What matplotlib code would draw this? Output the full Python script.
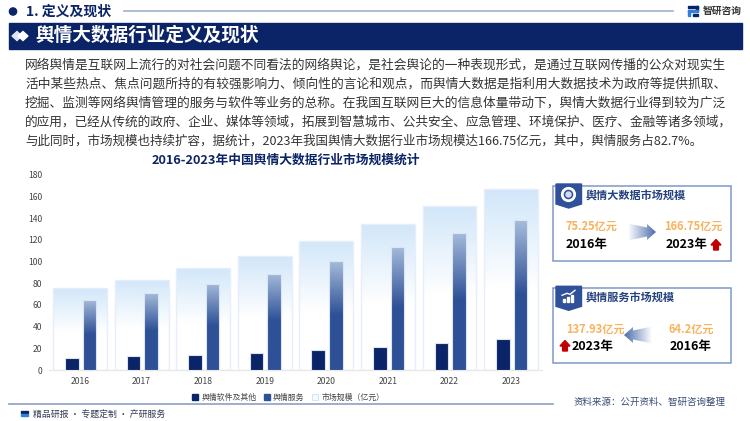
import numpy as np
import matplotlib
matplotlib.use('Agg')
import matplotlib.pyplot as plt
from matplotlib.colors import LinearSegmentedColormap
from matplotlib.patches import Patch, Polygon, Rectangle, Circle

plt.rcParams['font.family'] = ['Noto Sans CJK SC', 'DejaVu Sans']

years = ['2016', '2017', '2018', '2019', '2020', '2021', '2022', '2023']
market = [75.25, 83.2, 93.7, 105, 119.2, 134.3, 151.3, 166.75]
service = [64.2, 70.9, 79.5, 88.7, 100.1, 113.4, 126.3, 137.93]
other = [11.05, 12.5, 14.2, 16, 18.5, 21.3, 25, 28.82]
yticks = [0, 20, 40, 60, 80, 100, 120, 140, 160, 180]

body_lines = [
    '网络舆情是互联网上流行的对社会问题不同看法的网络舆论，是社会舆论的一种表现形式，是通过互联网传播的公众对现实生',
    '活中某些热点、焦点问题所持的有较强影响力、倾向性的言论和观点，而舆情大数据是指利用大数据技术为政府等提供抓取、',
    '挖掘、监测等网络舆情管理的服务与软件等业务的总称。在我国互联网巨大的信息体量带动下，舆情大数据行业得到较为广泛',
    '的应用，已经从传统的政府、企业、媒体等领域，拓展到智慧城市、公共安全、应急管理、环境保护、医疗、金融等诸多领域，',
    '与此同时，市场规模也持续扩容，据统计，2023年我国舆情大数据行业市场规模达166.75亿元，其中，舆情服务占82.7%。',
]

NAVY = '#0b2468'
W, H = 750, 421

fig = plt.figure(figsize=(7.5, 4.21), dpi=100)

# page layer in pixel coordinates
pg = fig.add_axes([0, 0, 1, 1])
pg.set_xlim(0, W)
pg.set_ylim(H, 0)
pg.axis('off')


def gradient(ax, box, stops, horizontal=False, clip=None, zorder=2):
    cmap = LinearSegmentedColormap.from_list('g', stops)
    g = np.linspace(0, 1, 256)
    g = g.reshape(1, -1) if horizontal else g.reshape(-1, 1)
    im = ax.imshow(g, extent=box, cmap=cmap, aspect='auto', origin='lower' if ax is not pg else 'upper',
                   zorder=zorder, interpolation='bilinear')
    if clip is not None:
        im.set_clip_path(clip)
    return im


# header
pg.add_patch(Circle((13, 11.5), 3.6, color=NAVY))
pg.text(26, 12, '1. 定义及现状', fontsize=10, fontweight='bold', color=NAVY, va='center')
pg.plot([124, 673], [10.5, 10.5], color='#9fb0d2', lw=1.2)
pg.add_patch(Rectangle((8.7, 22.7), 733.3, 26.6, color='#0b2468'))
pg.text(35, 35.5, '舆情大数据行业定义及现状', fontsize=13.45, fontweight='bold', color='white', va='center')
pg.add_patch(Polygon([(12, 36), (17, 31.5), (22, 36), (17, 40.5)], color='#dfe4ee'))
pg.add_patch(Polygon([(18, 36), (23, 31.5), (28, 36), (23, 40.5)], color='white'))

# logo
pg.add_patch(Rectangle((688, 6), 10, 2.4, color=NAVY))
pg.add_patch(Rectangle((695.6, 6), 2.4, 4.5, color=NAVY))
pg.add_patch(Rectangle((688, 10), 10, 2.2, color='#2f80d8'))
pg.add_patch(Rectangle((688, 10), 2.4, 6, color='#2f80d8'))
pg.add_patch(Rectangle((692.5, 13.8), 5.5, 2.2, color=NAVY))
pg.text(703, 10.5, '智研咨询', fontsize=7, fontweight='bold', color='#333333', va='center')

# body text, the last two lines run a bit narrower in the original
for i, line in enumerate(body_lines):
    size = {3: 9.11, 4: 9.03}.get(i, 9.15)
    pg.text(25, 65.3 + i * 18.85, line, fontsize=size, color='#333333', va='center')

pg.text(286, 160, '2016-2023年中国舆情大数据行业市场规模统计', fontsize=9.2, fontweight='bold',
        color=NAVY, va='center', ha='center')

# chart
left, right, top, bottom = 49.25, 541.9, 174.7, 370
ax = fig.add_axes([left / W, 1 - bottom / H, (right - left) / W, (bottom - top) / H])
ax.patch.set_alpha(0)
x = np.arange(len(years))
bg_bars = ax.bar(x, market, width=0.875, color='none', edgecolor='#e6eefb', linewidth=1, zorder=3)
srv_bars = ax.bar(x + 0.154, service, width=0.22, color='none', edgecolor='#dbe4f3', linewidth=0.8, zorder=5)
oth_bars = ax.bar(x - 0.132, other, width=0.22, color=NAVY, edgecolor='#dbe4f3', linewidth=0.8, zorder=5)

# images overshoot the bar top a little and get clipped to the bar, avoids a white seam
for b in bg_bars:
    gradient(ax, (b.get_x(), b.get_x() + b.get_width(), 0, b.get_height() + 1.5),
             [(0, '#ffffff'), (0.45, '#ffffff'), (1, '#d0e6f9')], clip=b, zorder=2)
for b in srv_bars:
    gradient(ax, (b.get_x(), b.get_x() + b.get_width(), 0, b.get_height() + 1.5),
             [(0, '#2e5096'), (0.5, '#2e5096'), (1, '#a9bfdd')], clip=b, zorder=4)

ax.set_xlim(-0.5, 7.5)
ax.set_ylim(0, 180)
ax.set_xticks(x, years)
ax.set_yticks(yticks)
ax.tick_params(length=0, labelsize=6.2, labelcolor='#444444', pad=5)
for s in ['top', 'right', 'left']:
    ax.spines[s].set_visible(False)
ax.spines['bottom'].set_color('#e8e8e8')
ax.spines['bottom'].set_linewidth(1)

handles = [Patch(color=NAVY), Patch(color='#2e5096'),
           Patch(facecolor='#f4f9fe', edgecolor='#d0e0f5', linewidth=0.6)]
ax.legend(handles, ['舆情软件及其他', '舆情服务', '市场规模（亿元）'], ncol=3, frameon=False, fontsize=5.7,
          labelcolor='#444444', loc='center', bbox_to_anchor=((288 - left) / (right - left), -0.138),
          handlelength=0.8, handleheight=0.8, handletextpad=0.4, columnspacing=0.9, borderpad=0)

# footer
pg.plot([9, 553], [404, 404], color='#8d9fc4', lw=1.2)
pg.add_patch(Rectangle((21, 410.5), 7, 2, color=NAVY))
pg.add_patch(Rectangle((21, 413.5), 7, 2, color='#2f80d8'))
pg.text(33, 414.5, '精品研报 · 专题定制 · 产研服务', fontsize=6.4, color='#333a55', va='center')
pg.text(574, 402.7, '资料来源：公开资料、智研咨询整理', fontsize=6.8, color='#3a4a78', va='center')


# side panels
def panel(y0, y1, title, icon):
    pg.add_patch(Rectangle((553, y0), 178, y1 - y0, fc='white', ec='#7f98c8', lw=1.1))
    pg.add_patch(Polygon([(556, y0 - 2), (581.5, y0 - 2), (581.5, y0 + 18), (568.7, y0 + 22), (556, y0 + 18)],
                         color='#2f5199', zorder=3))
    pg.text(586, y0 + 10, title, fontsize=8, fontweight='bold', color='#24427f', va='center', zorder=3)
    if icon == 'ring':
        pg.add_patch(Circle((568.5, y0 + 8.5), 6.2, fc='none', ec='white', lw=2, zorder=4))
        pg.add_patch(Circle((568.5, y0 + 8.5), 2.5, color='#cfe0f5', zorder=4))
    else:
        for k, h in enumerate([3, 5, 7]):
            pg.add_patch(Rectangle((562.5 + k * 4, y0 + 14 - h), 2.6, h, color='white', zorder=4))
        pg.plot([562, 567, 570, 575], [y0 + 7, y0 + 5, y0 + 6, y0 + 2], color='white', lw=1, zorder=4)


def up_arrow(cx, cy):
    pg.add_patch(Polygon([(cx - 5, cy), (cx, cy - 5.5), (cx + 5, cy), (cx + 2.4, cy), (cx + 2.4, cy + 5),
                          (cx - 2.4, cy + 5), (cx - 2.4, cy)], color='#c00000', zorder=4))


def flow_arrow(x0, x1, cy, direction):
    # fading block arrow, tip at x1
    sgn = 1 if direction > 0 else -1
    neck = x1 - sgn * 9
    pts = [(x0, cy - 8.5), (neck, cy - 4.5), (neck, cy - 8), (x1, cy), (neck, cy + 8), (neck, cy + 4.5), (x0, cy + 8.5)]
    poly = Polygon(pts, fc='none', ec='none', zorder=3)
    pg.add_patch(poly)
    box = (min(x0, x1), max(x0, x1), cy + 9, cy - 9)
    stops = [(0, '#ffffff'), (1, '#4a6cab')] if sgn > 0 else [(0, '#4a6cab'), (1, '#ffffff')]
    gradient(pg, box, stops, horizontal=True, clip=poly, zorder=3)


ORANGE = '#f9b25e'
panel(186, 261, '舆情大数据市场规模', 'ring')
pg.text(591.5, 226.7, '75.25亿元', fontsize=8, fontweight='bold', color=ORANGE, ha='center', va='center', zorder=3)
pg.text(587, 244.7, '2016年', fontsize=9, fontweight='bold', color='black', ha='center', va='center', zorder=3)
pg.text(693, 226.7, '166.75亿元', fontsize=8, fontweight='bold', color=ORANGE, ha='center', va='center', zorder=3)
pg.text(686.7, 244.7, '2023年', fontsize=9, fontweight='bold', color='black', ha='center', va='center', zorder=3)
up_arrow(716, 245)
flow_arrow(628, 656, 232, 1)

panel(288.3, 363.3, '舆情服务市场规模', 'bars')
pg.text(595, 329, '137.93亿元', fontsize=8, fontweight='bold', color=ORANGE, ha='center', va='center', zorder=3)
pg.text(593, 346.7, '2023年', fontsize=9, fontweight='bold', color='black', ha='center', va='center', zorder=3)
pg.text(691, 329, '64.2亿元', fontsize=8, fontweight='bold', color=ORANGE, ha='center', va='center', zorder=3)
pg.text(691, 346.7, '2016年', fontsize=9, fontweight='bold', color='black', ha='center', va='center', zorder=3)
up_arrow(565, 346)
flow_arrow(652, 624, 335, -1)

pg.set_xlim(0, W)
pg.set_ylim(H, 0)
fig.savefig('out.png', dpi=100)
